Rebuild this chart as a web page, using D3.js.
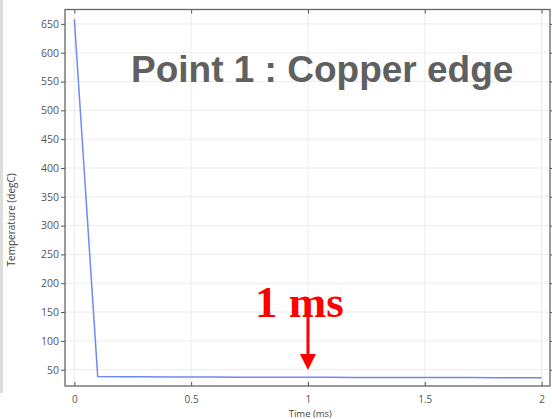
<!DOCTYPE html>
<html><head><meta charset="utf-8">
<script src="https://cdn.jsdelivr.net/npm/d3@7"></script>
<style>html,body{margin:0;padding:0;background:#fff;overflow:hidden}</style>
</head><body>
<svg id="c" width="552" height="419"></svg>
<script>
const times = [0, 0.1, 0.2, 0.3, 0.4, 0.5, 0.6, 0.7, 0.8, 0.9, 1.0, 1.1, 1.2, 1.3, 1.4, 1.5, 1.6, 1.7, 1.8, 1.9, 2.0];
const temps = [658, 38, 37.8, 37.6, 37.4, 37.3, 37.2, 37.1, 37.0, 36.9, 36.8, 36.7, 36.6, 36.5, 36.4, 36.4, 36.3, 36.3, 36.2, 36.2, 36.1];
const xTicks = [0, 0.5, 1, 1.5, 2];
const xTickLabels = ["0", "0.5", "1", "1.5", "2"];
const yTicks = [50, 100, 150, 200, 250, 300, 350, 400, 450, 500, 550, 600, 650];
const title = "Point 1 : Copper edge";
const annotation = "1 ms";
const annotationTime = 1;
const xLabel = "Time (ms)";
const yLabel = "Temperature (degC)";

(function () {
const svg = d3.select("#c");
const x = d3.scaleLinear().domain([-0.04, 2.036]).range([65, 550]);
const y = d3.scaleLinear().domain([21.7, 675]).range([386, 9.5]);
const [x0, x1] = x.range(), [y0, y1] = y.range();

// left screenshot strip
svg.append("rect").attr("x", 0).attr("y", 0).attr("width", 3).attr("height", 393).attr("fill", "#dcdcdc");

// gridlines
svg.append("g").selectAll("line").data(yTicks).join("line")
  .attr("x1", x0).attr("x2", x1).attr("y1", d => y(d)).attr("y2", d => y(d))
  .attr("stroke", "#ececec").attr("stroke-width", 1);
svg.append("g").selectAll("line").data(xTicks).join("line")
  .attr("y1", y0).attr("y2", y1).attr("x1", d => x(d)).attr("x2", d => x(d))
  .attr("stroke", "#ececec").attr("stroke-width", 1);

const tickFont = "'Open Sans', 'DejaVu Sans', sans-serif";
// axes
const gLeft = svg.append("g").attr("transform", `translate(${x0},0)`)
  .call(d3.axisLeft(y).tickValues(yTicks).tickSize(4).tickPadding(2).tickFormat(d3.format("d")));
const gRight = svg.append("g").attr("transform", `translate(${x1},0)`)
  .call(d3.axisRight(y).tickValues(yTicks).tickSize(4).tickFormat(""));
const gBottom = svg.append("g").attr("transform", `translate(0,${y0})`)
  .call(d3.axisBottom(x).tickValues(xTicks).tickSize(-4).tickPadding(8).tickFormat((d, i) => xTickLabels[i]));
const gTop = svg.append("g").attr("transform", `translate(0,${y1})`)
  .call(d3.axisTop(x).tickValues(xTicks).tickSize(-4).tickFormat(""));
[gLeft, gRight, gBottom, gTop].forEach(g => {
  g.select(".domain").remove();
  g.selectAll(".tick line").attr("stroke", "#555").attr("stroke-width", 1);
  g.selectAll(".tick text").attr("fill", "#555").attr("font-family", tickFont).attr("font-size", 10.5);
});
gBottom.selectAll(".tick text").attr("dy", "0.85em").attr("font-size", 10);

// frame
svg.append("rect").attr("x", x0).attr("y", y1).attr("width", x1 - x0).attr("height", y0 - y1)
  .attr("fill", "none").attr("stroke", "#666").attr("stroke-width", 1.3);

// data line
const pts = times.map((t, i) => [t, temps[i]]);
svg.append("path").datum(pts)
  .attr("d", d3.line().x(d => x(d[0])).y(d => y(d[1])))
  .attr("fill", "none").attr("stroke", "#7088f5").attr("stroke-width", 1.5);

// axis labels
svg.append("text").attr("x", x(1.01)).attr("y", 417).attr("text-anchor", "middle")
  .attr("font-family", tickFont).attr("font-size", 9.5).attr("fill", "#444").text(xLabel);
svg.append("text").attr("transform", `translate(15,${y(310)}) rotate(-90)`).attr("text-anchor", "middle")
  .attr("font-family", tickFont).attr("font-size", 10).attr("fill", "#444").text(yLabel);

// title
svg.append("text").attr("x", 131).attr("y", 82)
  .attr("font-family", "'Liberation Sans', Arial, sans-serif").attr("font-weight", "bold")
  .attr("font-size", 37).attr("fill", "#606060").text(title);

// annotation
svg.append("text").attr("x", x(annotationTime) - 53).attr("y", 317)
  .attr("font-family", "'Liberation Serif', 'Times New Roman', serif").attr("font-weight", "bold")
  .attr("font-size", 45).attr("fill", "#ff0000").text(annotation);
const ax = x(annotationTime);
svg.append("line").attr("x1", ax).attr("x2", ax).attr("y1", 306).attr("y2", 356)
  .attr("stroke", "#ff0000").attr("stroke-width", 3);
svg.append("path").attr("d", `M${ax - 8},354 L${ax + 8},354 L${ax},370 Z`).attr("fill", "#ff0000");
})();
</script>
</body></html>
